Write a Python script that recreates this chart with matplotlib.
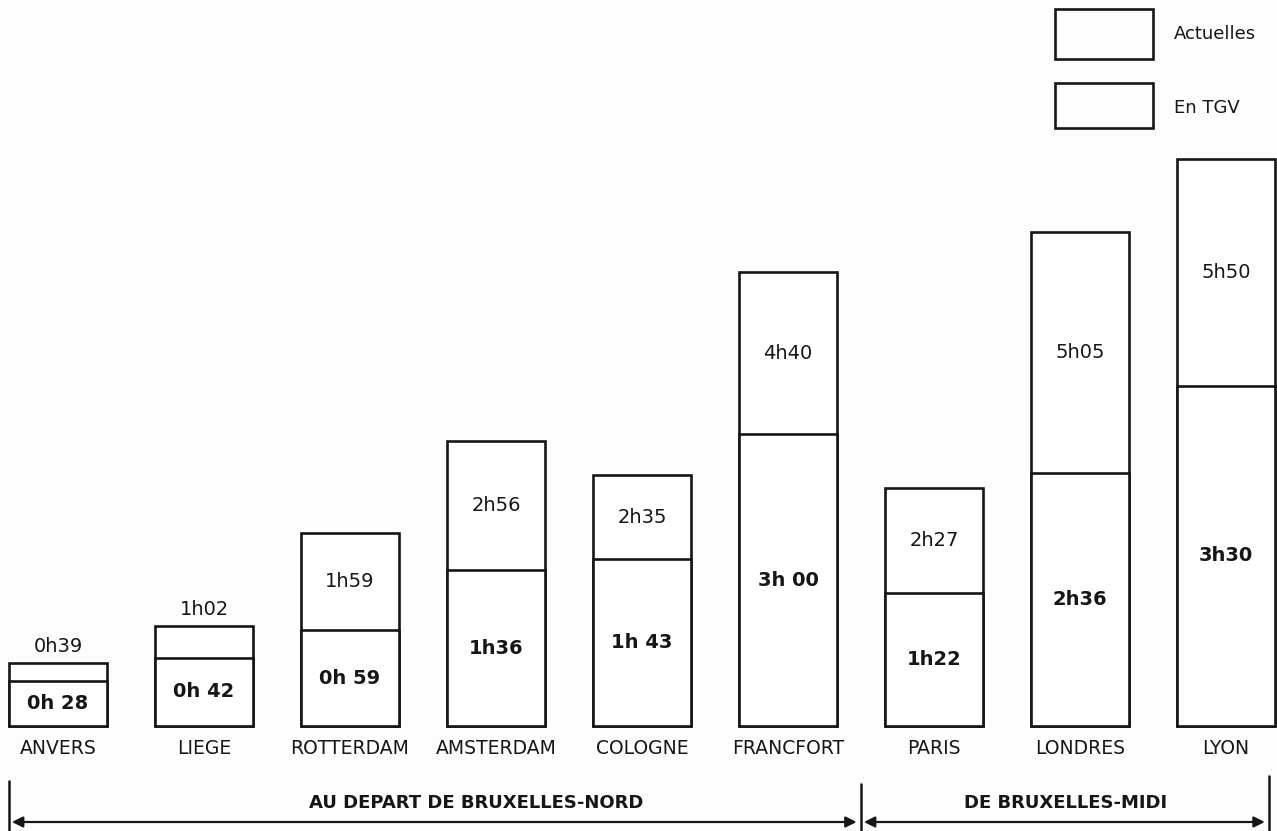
import matplotlib
matplotlib.use("Agg")
import matplotlib.pyplot as plt
from matplotlib.patches import Rectangle

# ---- data (minutes) ----
cities = ["ANVERS", "LIEGE", "ROTTERDAM", "AMSTERDAM", "COLOGNE",
          "FRANCFORT", "PARIS", "LONDRES", "LYON"]
actuelles_min = [39, 62, 119, 176, 155, 280, 147, 305, 350]
tgv_min = [28, 42, 59, 96, 103, 180, 82, 156, 210]
actuelles_lbl = ["0h39", "1h02", "1h59", "2h56", "2h35", "4h40", "2h27", "5h05", "5h50"]
tgv_lbl = ["0h 28", "0h 42", "0h 59", "1h36", "1h 43", "3h 00", "1h22", "2h36", "3h30"]
groups = ["AU DEPART DE BRUXELLES-NORD", "DE BRUXELLES-MIDI"]
group_sizes = [6, 3]
legend_labels = ["Actuelles", "En TGV"]

W, H = 1277, 831
INK = "#161616"
LW = 1.9
plt.rcParams['font.family'] = ['DejaVu Sans']

fig = plt.figure(figsize=(W / 100, H / 100), dpi=100)
fig.patch.set_facecolor("#fdfdfd")
ax = fig.add_axes([0, 0, 1, 1])
ax.set_facecolor("#fdfdfd")

# scale: 146 px per category, 1.62 px per minute, baseline at y=726 px
PX_CAT = 146.0
PX_MIN = 1.62
ax.set_xlim(-58 / PX_CAT, 8 + 51 / PX_CAT)
ax.set_ylim(-(H - 726) / PX_MIN, 726 / PX_MIN)
ax.axis("off")

x = list(range(len(cities)))
bw = 98 / PX_CAT

ax.bar(x, actuelles_min, width=bw, color="white", edgecolor=INK, linewidth=LW, zorder=2)
ax.bar(x, tgv_min, width=bw, color="white", edgecolor=INK, linewidth=LW, zorder=3)

def py(pix):
    """pixel offset (downwards) -> minutes"""
    return pix / PX_MIN

for i, (a, t) in enumerate(zip(actuelles_min, tgv_min)):
    # TGV label in the middle of the lower box
    ax.text(i, t / 2, tgv_lbl[i], ha="center", va="center", fontsize=14,
            fontweight="bold", color=INK, zorder=5)
    # current time label: inside upper part, or above the box when too small
    if a - t < 30:
        ax.text(i, a + py(16), actuelles_lbl[i], ha="center", va="center",
                fontsize=14, color=INK, zorder=5)
    else:
        ax.text(i, (a + t) / 2, actuelles_lbl[i], ha="center", va="center",
                fontsize=14, color=INK, zorder=5)
    ax.text(i, -py(23), cities[i], ha="center", va="center", fontsize=13.5,
            color=INK, zorder=5)

# ---- group brackets with double arrows ----
edges = [-bw / 2]
acc = 0
for n in group_sizes:
    acc += n
    edges.append(acc - 0.5)
edges[-1] = len(cities) - 1 + bw / 2 - 0.04

y_arrow = -py(96)
for k, name in enumerate(groups):
    x0, x1 = edges[k], edges[k + 1]
    ax.annotate("", xy=(x0 + 0.02, y_arrow), xytext=(x1 - 0.03, y_arrow),
                arrowprops=dict(arrowstyle="<|-|>", color=INK, lw=1.6,
                                mutation_scale=16, shrinkA=0, shrinkB=0))
    ax.text((x0 + x1) / 2 + (0.28 if k == 0 else 0.0), -py(77), name,
            ha="center", va="center", fontsize=13, fontweight="bold", color=INK)

for e, top in zip(edges, [54, 57, 49]):
    ax.plot([e, e], [-py(top), -py(H - 726 + 5)], color=INK, lw=1.8,
            solid_capstyle="butt", clip_on=False)

# ---- legend (top right) ----
leg_boxes = [(1055, 9, 98, 50), (1055, 83, 98, 45)]
leg_text_y = [34, 108]
for (bx, by, bwp, bhp), lab, ty in zip(leg_boxes, legend_labels, leg_text_y):
    fig.add_artist(Rectangle((bx / W, 1 - (by + bhp) / H), bwp / W, bhp / H,
                             transform=fig.transFigure, fill=False,
                             edgecolor=INK, linewidth=LW))
    fig.text(1174 / W, 1 - ty / H, lab, ha="left", va="center", fontsize=13,
             color=INK)

fig.savefig("out.png", dpi=100, facecolor=fig.get_facecolor())
